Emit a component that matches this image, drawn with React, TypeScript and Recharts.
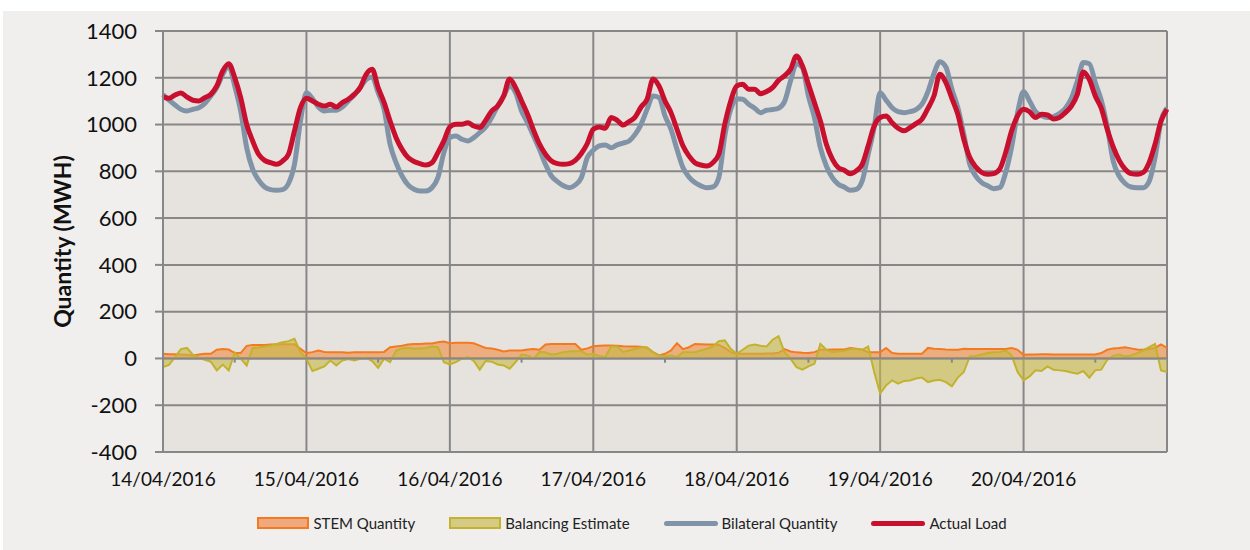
import {
  ComposedChart,
  Line,
  Area,
  XAxis,
  YAxis,
  CartesianGrid,
  Legend,
  ReferenceLine
} from 'recharts';

const FONT = 'Lato, "Open Sans", sans-serif';

// hourly readings, 14/04/2016 00:00 to 21/04/2016 00:00 (one row per day)
const actualLoad = [
  1118, 1112, 1126, 1135, 1118, 1104, 1101, 1115, 1129, 1165, 1229, 1260, 1201, 1115, 1001, 930, 873, 847, 837, 830, 844, 873, 973, 1072,
  1112, 1101, 1087, 1079, 1087, 1075, 1094, 1108, 1129, 1158, 1215, 1236, 1158, 1094, 1015, 944, 894, 859, 842, 833, 827, 837, 880, 930,
  990, 1001, 1001, 1008, 994, 987, 1018, 1058, 1079, 1122, 1195, 1158, 1101, 1044, 976, 916, 873, 844, 833, 830, 833, 847, 876, 919,
  980, 990, 984, 1030, 1018, 998, 1013, 1032, 1075, 1108, 1195, 1165, 1101, 1051, 980, 909, 866, 837, 827, 823, 837, 873, 1001, 1101,
  1165, 1172, 1151, 1151, 1132, 1141, 1158, 1189, 1208, 1236, 1293, 1250, 1172, 1094, 1015, 916, 852, 816, 805, 790, 802, 830, 909, 994,
  1030, 1037, 1008, 984, 973, 987, 1004, 1023, 1069, 1122, 1215, 1179, 1112, 1044, 937, 859, 819, 795, 787, 790, 809, 880, 973, 1037,
  1065, 1055, 1030, 1044, 1041, 1024, 1030, 1051, 1079, 1129, 1225, 1193, 1122, 1070, 980, 904, 847, 809, 790, 787, 795, 837, 916, 1015,
  1065
];

const bilateralQuantity = [
  1129, 1104, 1084, 1065, 1058, 1065, 1072, 1090, 1122, 1158, 1215, 1250, 1165, 1058, 901, 809, 762, 733, 722, 719, 722, 748, 830, 1015,
  1136, 1111, 1075, 1058, 1061, 1061, 1075, 1101, 1126, 1158, 1193, 1203, 1136, 1065, 916, 837, 780, 742, 723, 716, 716, 730, 773, 880,
  944, 951, 937, 930, 944, 966, 990, 1030, 1079, 1122, 1165, 1136, 1058, 1008, 951, 894, 830, 780, 756, 738, 730, 742, 773, 859,
  890, 909, 913, 901, 913, 921, 930, 958, 1001, 1065, 1122, 1115, 1037, 980, 894, 816, 776, 752, 738, 730, 733, 773, 951, 1065,
  1110, 1108, 1087, 1070, 1051, 1061, 1064, 1070, 1098, 1186, 1260, 1243, 1122, 1030, 901, 823, 773, 745, 733, 719, 723, 759, 873, 987,
  1136, 1104, 1072, 1055, 1051, 1055, 1064, 1087, 1141, 1218, 1269, 1246, 1151, 1072, 958, 830, 780, 752, 738, 726, 730, 794, 904, 1051,
  1141, 1101, 1055, 1038, 1030, 1034, 1047, 1070, 1112, 1186, 1265, 1260, 1179, 1104, 990, 844, 780, 748, 733, 730, 730, 756, 859, 1015,
  1070
];

const stemQuantity = [
  20, 18, 18, 17, 16, 13, 17, 20, 20, 37, 40, 38, 23, 23, 54, 58, 58, 58, 60, 60, 61, 61, 61, 41,
  23, 27, 34, 28, 26, 26, 26, 24, 26, 26, 27, 27, 27, 28, 48, 51, 54, 60, 62, 62, 64, 64, 69, 72,
  65, 67, 67, 67, 65, 55, 45, 43, 37, 30, 34, 34, 34, 38, 40, 37, 60, 62, 62, 62, 62, 62, 37, 43,
  52, 54, 55, 55, 54, 52, 51, 51, 50, 45, 27, 13, 20, 34, 65, 40, 48, 62, 61, 60, 60, 58, 45, 27,
  20, 20, 20, 20, 20, 21, 21, 24, 40, 30, 26, 24, 23, 27, 37, 37, 38, 38, 38, 45, 41, 37, 27, 27,
  27, 45, 23, 20, 20, 20, 20, 20, 45, 41, 40, 38, 37, 37, 41, 40, 40, 40, 40, 40, 40, 40, 45, 37,
  16, 17, 17, 18, 18, 17, 17, 17, 17, 17, 17, 17, 17, 23, 37, 43, 45, 48, 43, 38, 37, 40, 45, 60,
  45
];

const balancingEstimate = [
  -37, -28, 6, 40, 45, 16, 3, -6, -14, -51, -26, -51, 25, -1, -30, 45, 47, 51, 55, 62, 69, 74, 84, 27,
  -1, -54, -44, -34, -9, -30, -9, -3, -9, -1, 3, -11, -40, -1, -16, 34, 43, 45, 41, 43, 45, 51, 48, -16,
  -26, -16, -1, 6, -11, -48, -11, -14, -26, -30, -44, -16, 17, 13, -1, 27, 26, 16, 20, 27, 30, 31, 31, 16,
  20, 11, 6, 51, 51, 28, 34, 40, 48, 48, 26, 13, 9, 13, 6, 26, 26, 26, 34, 41, 51, 74, 77, 41,
  20, 37, 55, 60, 54, 51, 80, 95, 27, -1, -37, -48, -34, -23, 62, 37, 28, 30, 33, 40, 40, 37, 51, -58,
  -150, -115, -94, -108, -96, -94, -86, -82, -101, -94, -91, -101, -119, -82, -58, 9, 11, 17, 23, 26, 27, 34, 13, -58,
  -94, -77, -51, -54, -34, -48, -51, -54, -60, -65, -54, -82, -51, -48, -6, 11, 17, 9, 13, 23, 34, 48, 62, -51,
  -58
];

const dateLabels = ['14/04/2016', '15/04/2016', '16/04/2016', '17/04/2016', '18/04/2016', '19/04/2016', '20/04/2016'];
const yTicks = [-400, -200, 0, 200, 400, 600, 800, 1000, 1200, 1400];

const HOURS_PER_DAY = 24;
const totalHours = dateLabels.length * HOURS_PER_DAY;
const dayTicks = [...dateLabels.map((_, i) => i * HOURS_PER_DAY), totalHours];
const noonTicks = dateLabels.map((_, i) => i * HOURS_PER_DAY + HOURS_PER_DAY / 2);

const data = actualLoad.map((load, h) => ({
  h,
  load,
  bilateral: bilateralQuantity[h],
  stem: stemQuantity[h],
  balancing: balancingEstimate[h]
}));

const GRID = '#878787';

const legendItems = [
  { label: 'STEM Quantity', kind: 'area', stroke: '#f47a20', fill: '#f0a97f' },
  { label: 'Balancing Estimate', kind: 'area', stroke: '#c2b22e', fill: '#d6cb84' },
  { label: 'Bilateral Quantity', kind: 'line', stroke: '#8194a7' },
  { label: 'Actual Load', kind: 'line', stroke: '#c8102e' }
];

function renderLegend() {
  return (
    <div
      style={{
        display: 'flex',
        justifyContent: 'center',
        gap: 34,
        paddingLeft: 14,
        fontFamily: FONT,
        fontSize: 15,
        color: '#222',
        lineHeight: '22px'
      }}
    >
      {legendItems.map((item) => (
        <div key={item.label} style={{ display: 'flex', alignItems: 'center', gap: 4 }}>
          {item.kind === 'area' ? (
            <span
              style={{
                display: 'inline-block',
                width: 48,
                height: 8,
                background: item.fill,
                border: `2px solid ${item.stroke}`
              }}
            />
          ) : (
            <span
              style={{
                display: 'inline-block',
                width: 54,
                height: 5,
                borderRadius: 3,
                background: item.stroke
              }}
            />
          )}
          <span>{item.label}</span>
        </div>
      ))}
    </div>
  );
}

export default function App() {
  return (
    <div style={{ position: 'relative', width: 1250, height: 550, background: '#fff' }}>
      <style>{'body{margin:0}'}</style>
      <div
        style={{
          position: 'absolute',
          left: 3,
          top: 11,
          right: 0,
          bottom: 0,
          background: '#f0efed'
        }}
      />
      <div style={{ position: 'absolute', left: 0, top: 0 }}>
        <ComposedChart
          width={1250}
          height={550}
          data={data}
          margin={{ top: 31, right: 83, left: 0, bottom: 26 }}
        >
          <CartesianGrid stroke={GRID} strokeWidth={2} fill="#e6e3df" />
          <XAxis
            dataKey="h"
            type="number"
            domain={[0, totalHours]}
            ticks={dayTicks}
            tickFormatter={(h) => dateLabels[h / HOURS_PER_DAY] ?? ''}
            axisLine={false}
            tickLine={false}
            tickSize={6}
            tickMargin={15}
            height={50}
            tick={{ fontSize: 19, fill: '#111', fontFamily: FONT }}
          />
          <YAxis
            domain={[-400, 1400]}
            ticks={yTicks}
            width={163}
            tickSize={8}
            tickMargin={18}
            axisLine={{ stroke: GRID, strokeWidth: 2 }}
            tickLine={{ stroke: GRID, strokeWidth: 2 }}
            tick={{ fontSize: 22, fill: '#111', fontFamily: FONT }}
            label={{
              value: 'Quantity (MWH)',
              angle: -90,
              position: 'insideLeft',
              offset: 63,
              style: { textAnchor: 'middle', fontSize: 23, fontWeight: 700, fill: '#111', fontFamily: FONT }
            }}
          />
          <Area
            type="linear"
            dataKey="stem"
            name="STEM Quantity"
            stroke="#f47a20"
            strokeWidth={2}
            fill="#f47a20"
            fillOpacity={0.5}
            isAnimationActive={false}
          />
          <Area
            type="linear"
            dataKey="balancing"
            name="Balancing Estimate"
            stroke="#c2b22e"
            strokeWidth={2}
            fill="#c8b845"
            fillOpacity={0.6}
            isAnimationActive={false}
          />
          <ReferenceLine y={0} stroke={GRID} strokeWidth={2} />
          {noonTicks.map((h) => (
            <ReferenceLine
              key={h}
              segment={[
                { x: h, y: 0 },
                { x: h, y: -18 }
              ]}
              stroke={GRID}
              strokeWidth={2}
            />
          ))}
          <Line
            type="monotone"
            dataKey="bilateral"
            name="Bilateral Quantity"
            stroke="#8194a7"
            strokeWidth={5}
            dot={false}
            isAnimationActive={false}
          />
          <Line
            type="monotone"
            dataKey="load"
            name="Actual Load"
            stroke="#c8102e"
            strokeWidth={5}
            dot={false}
            isAnimationActive={false}
          />
          <Legend
            verticalAlign="bottom"
            content={renderLegend}
            wrapperStyle={{ left: 0, width: 1250, top: 512, height: 22 }}
          />
        </ComposedChart>
      </div>
    </div>
  );
}
